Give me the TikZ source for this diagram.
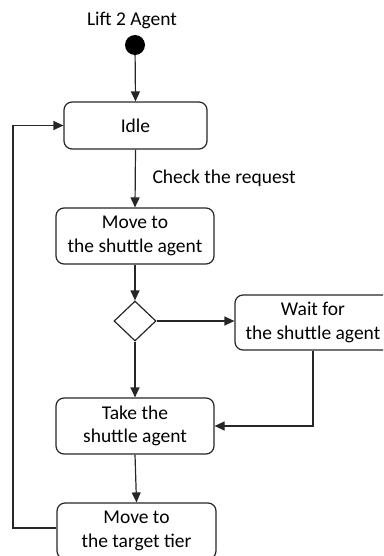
\documentclass[tikz,border=0pt]{standalone}
\usepackage{fontspec}
\setmainfont{Carlito}
\usetikzlibrary{arrows.meta,shapes.geometric}
\begin{document}
\begin{tikzpicture}[x=1pt,y=-1pt,
  every node/.style={font=\fontsize{19.5}{23.5}\selectfont},
  state/.style={draw=black!85, line width=1.2pt, rounded corners=8pt, align=center, inner sep=0pt},
  conn/.style={draw=black!85, line width=1.2pt, -{Triangle[length=10pt,width=9pt]}},
  plain/.style={draw=black!85, line width=1.2pt}]
\useasboundingbox (0,0) rectangle (383,556);
\clip (0,0) rectangle (383,556);
\node (title) at (132,20) {Lift 2 Agent};
\node[circle, fill=black, minimum size=20pt, inner sep=0pt] (init) at (135,45) {};
\node[state, minimum width=143pt, minimum height=47pt] (idle) at (135.5,125.5) {Idle};
\node[state, minimum width=158pt, minimum height=56pt] (move1) at (135,236) {Move to\\the shuttle agent};
\node[draw=black!85, line width=1.2pt, diamond, minimum width=42pt, minimum height=40pt, inner sep=0pt] (dec) at (135,321) {};
\node[state, minimum width=156pt, minimum height=55pt] (wait) at (313,322.5) {Wait for\\the shuttle agent};
\node[state, minimum width=158pt, minimum height=56pt] (take) at (135,426) {Take the\\shuttle agent};
\node[state, minimum width=159pt, minimum height=56pt] (target) at (136.5,531) {Move to\\the target tier};
\node[anchor=west] (lbl) at (149,178) {Check the request};
\coordinate (lp) at (13,125.5);
\draw[conn] (init) -- (idle.north);
\draw[conn] (idle.south) -- (move1.north);
\draw[conn] (move1.south) -- (dec.north);
\draw[conn] (dec.east) -- (dec.east -| wait.west);
\draw[conn] (dec.south) -- (take.north);
\draw[conn] (wait.south) |- (take.east);
\draw[conn] (take.south) -- (target.north);
\draw[conn] (target.west |- 0,528) -| (lp) -- (idle.west);
\end{tikzpicture}
\end{document}
